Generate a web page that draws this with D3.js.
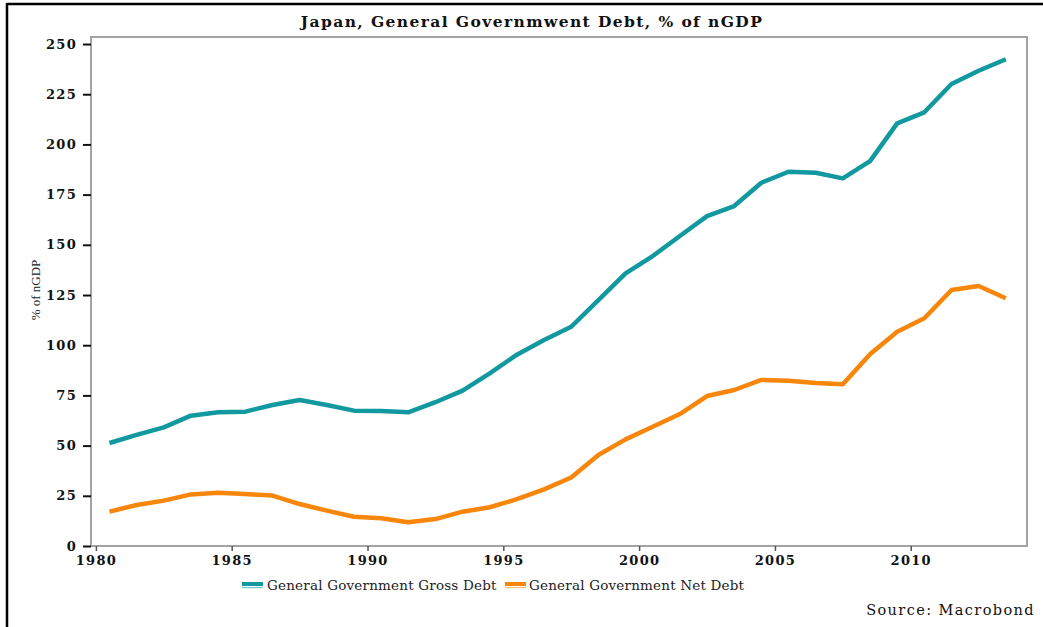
<!DOCTYPE html>
<html>
<head>
<meta charset="utf-8">
<script src="https://cdn.jsdelivr.net/npm/d3@7"></script>
<style>
  html, body { margin: 0; padding: 0; background: #fff; }
  svg { display: block; }
</style>
</head>
<body>
<svg id="chart" width="1043" height="627"></svg>
<script>
// ---- Data ----
const years = [1980,1981,1982,1983,1984,1985,1986,1987,1988,1989,1990,1991,1992,1993,1994,1995,1996,1997,1998,1999,2000,2001,2002,2003,2004,2005,2006,2007,2008,2009,2010,2011,2012,2013];
const grossDebt = [51.3,55.3,59.1,64.9,66.6,66.9,70.2,72.7,70.2,67.4,67.2,66.6,71.6,77.4,86.0,95.3,102.6,109.2,122.5,135.8,144.4,154.4,164.3,169.3,180.9,186.4,185.9,183.1,191.7,210.5,216.0,230.1,236.7,242.4];
const netDebt = [17.1,20.4,22.6,25.7,26.5,25.9,25.1,20.9,17.6,14.6,13.8,11.8,13.4,17.1,19.3,23.3,28.2,34.1,45.3,53.1,59.4,65.7,74.7,77.7,82.7,82.3,81.2,80.5,95.5,106.7,113.4,127.5,129.5,123.4];
const seriesNames = ["General Government Gross Debt", "General Government Net Debt"];
const seriesColors = ["#11999f", "#f7860b"];
const yTicks = [0,25,50,75,100,125,150,175,200,225,250];
const xTicks = [1980,1985,1990,1995,2000,2005,2010];
const titleText = "Japan, General Governmwent Debt, % of nGDP";
const yLabel = "% of nGDP";
const sourceText = "Source: Macrobond";

// ---- Layout ----
const svg = d3.select("#chart");
const plot = { left: 91, right: 1027, top: 37, bottom: 546 };

const x = d3.scaleLinear().domain([1979.82, 2014.28]).range([plot.left, plot.right]);
const y = d3.scaleLinear().domain([0, 253.5]).range([plot.bottom, plot.top]);

const serif = "'DejaVu Serif', serif";

// outer black border (top and left)
svg.append("line").attr("x1", 7).attr("x2", 1043).attr("y1", 4).attr("y2", 4)
  .attr("stroke", "#000").attr("stroke-width", 2.5);
svg.append("line").attr("x1", 7).attr("x2", 7).attr("y1", 3).attr("y2", 627)
  .attr("stroke", "#000").attr("stroke-width", 2.5);

// title
svg.append("text").attr("x", 532).attr("y", 27).attr("text-anchor", "middle")
  .attr("font-family", serif).attr("font-weight", "bold").attr("font-size", 15.5)
  .attr("letter-spacing", 1.4).attr("fill", "#111").text(titleText);

// plot frame
svg.append("rect").attr("x", plot.left).attr("y", plot.top)
  .attr("width", plot.right - plot.left).attr("height", plot.bottom - plot.top)
  .attr("fill", "none").attr("stroke", "#a3a3a3").attr("stroke-width", 2);

// y axis
const yAxis = d3.axisLeft(y).tickValues(yTicks).tickSize(8).tickPadding(6);
const gy = svg.append("g").attr("transform", `translate(${plot.left},0)`).call(yAxis);
gy.select(".domain").remove();
gy.selectAll(".tick line").attr("stroke", "#111").attr("stroke-width", 2);
gy.selectAll(".tick text").attr("font-family", serif).attr("font-weight", "bold")
  .attr("font-size", 13).attr("letter-spacing", 1.3).attr("fill", "#111");

// x axis
const xAxis = d3.axisBottom(x).tickValues(xTicks).tickFormat(d3.format("d")).tickSize(5).tickPadding(5);
const gx = svg.append("g").attr("transform", `translate(0,${plot.bottom})`).call(xAxis);
gx.select(".domain").remove();
gx.selectAll(".tick line").attr("stroke", "#555").attr("stroke-width", 1.5);
gx.selectAll(".tick text").attr("font-family", serif).attr("font-weight", "bold")
  .attr("font-size", 13).attr("letter-spacing", 1.3).attr("fill", "#111");

// y label
svg.append("text").attr("transform", "translate(40,290) rotate(-90)")
  .attr("text-anchor", "middle").attr("font-family", "'Liberation Serif', serif")
  .attr("font-size", 13).attr("fill", "#222").text(yLabel);

// lines
const line = d3.line().x((d, i) => x(years[i] + 0.5)).y(d => y(d));
[grossDebt, netDebt].forEach((vals, k) => {
  svg.append("path").datum(vals).attr("d", line)
    .attr("fill", "none").attr("stroke", seriesColors[k])
    .attr("stroke-width", 4.5).attr("stroke-linejoin", "round");
});

// legend
const legendItems = [{ x: 242, tx: 267 }, { x: 505, tx: 529 }];
legendItems.forEach((it, k) => {
  svg.append("rect").attr("x", it.x).attr("y", 582).attr("width", 21).attr("height", 4)
    .attr("fill", seriesColors[k]);
  svg.append("rect").attr("x", it.x).attr("y", 587).attr("width", 21).attr("height", 1.2)
    .attr("fill", seriesColors[k]).attr("opacity", 0.55);
  svg.append("text").attr("x", it.tx).attr("y", 590)
    .attr("font-family", serif).attr("font-size", 13.5).attr("letter-spacing", 0.2)
    .attr("fill", "#222").text(seriesNames[k]);
});

// source
svg.append("text").attr("x", 1035).attr("y", 615).attr("text-anchor", "end")
  .attr("font-family", serif).attr("font-size", 14.5).attr("letter-spacing", 1.4)
  .attr("fill", "#111").text(sourceText);
</script>
</body>
</html>
